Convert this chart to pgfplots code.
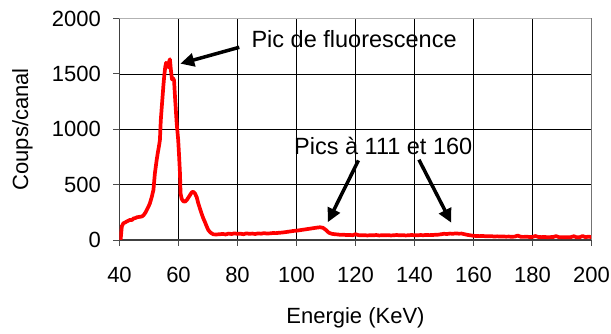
\documentclass[border=0pt]{standalone}
\usepackage{fontspec}
\setmainfont{Liberation Sans}
\usepackage{pgfplots}
\usepackage{pgfplotstable}
\pgfplotsset{compat=1.18}
\usetikzlibrary{arrows.meta}
\pgfplotstableread{
E C
40 0
40.4 10
40.8 125
41.3 150
41.9 158
42.5 168
43.1 176
43.6 182
44.2 180
44.8 195
45.4 198
45.9 205
46.5 208
47.1 210
47.7 214
48.2 225
48.8 248
49.3 275
49.8 300
50.3 331
50.9 385
51.5 451
52.0 602
52.6 722
53.0 790
53.4 850
53.7 903
54.0 1083
54.3 1190
54.6 1294
54.9 1400
55.2 1490
55.5 1560
55.8 1600
56.1 1590
56.5 1560
56.8 1610
57.1 1632
57.4 1540
57.8 1450
58.2 1460
58.5 1440
58.8 1300
59.1 1174
59.4 1050
59.9 903
60.2 760
60.5 602
60.7 420
61.1 370
61.6 350
62.2 346
62.8 360
63.4 385
64.0 410
64.5 430
65.0 436
65.6 420
66.2 385
66.7 331
67.2 290
67.8 240
68.4 196
69.0 160
69.6 120
70.1 90
70.8 68
71.8 51
72.8 50
74 52
75 55
76 50
77 58
78 54
79 60
80 55
81 57
82 52
83 60
84 56
85 58
86 54
87 60
88 57
89 62
90 58
91 60
92 63
93 62
94 65
95 67
96 70
97 74
98 78
99 82
100 84
101 88
102 92
103 96
104 100
105 104
106 108
107 112
108 115
109 110
110 90
111 65
112 56
113 52
114 50
115 46
116 48
117 44
118 46
119 43
120 52
121 44
122 42
123 44
124 41
125 43
126 42
127 45
128 41
129 43
130 42
131 44
132 41
133 43
134 45
135 42
136 44
137 41
138 43
139 45
140 43
141 42
142 45
143 43
144 46
145 44
146 45
147 47
148 48
149 52
150 56
151 54
152 58
153 56
154 60
155 57
156 58
157 52
158 46
159 42
160 38
161 36
162 35
163 37
164 34
165 33
166 35
167 31
168 33
169 31
170 32
171 30
172 31
173 29
174 31
175 40
176 29
177 28
178 30
179 27
180 28
181 36
182 27
183 26
184 28
185 25
186 26
187 27
188 35
189 25
190 26
191 24
192 25
193 26
194 34
195 24
196 25
197 36
198 25
199 31
200 25
}\spectre
\begin{document}
\begin{tikzpicture}
\path[use as bounding box] (-119.5pt,-94pt) rectangle (491.5pt,240pt);
\begin{axis}[
  at={(0pt,0pt)}, anchor=south west,
  scale only axis, width=472pt, height=221.5pt,
  xmin=40, xmax=200, ymin=0, ymax=2000,
  xtick={40,60,...,200}, ytick={0,500,...,2000},
  grid=major, major grid style={black, line width=0.6pt},
  axis x line*=bottom, axis y line*=left,
  axis line style={-, draw=black!75, line width=1.2pt},
  tick align=outside, major tick length=6pt,
  tick style={black!70, line width=0.8pt},
  font=\fontsize{22}{26}\selectfont,
  /pgf/number format/assume math mode=true,
  /pgf/number format/1000 sep={},
  yticklabel style={anchor=east, inner sep=0pt, xshift=-12.5pt},
  xticklabel style={anchor=north, inner sep=0pt, yshift=-20.5pt},
  xlabel={Energie (KeV)}, ylabel={Coups/canal},
  every axis x label/.style={at={([yshift=-78pt]axis description cs:0.5,0)}, anchor=center},
  every axis y label/.style={at={([xshift=-97pt]axis description cs:0,0.5)}, anchor=center, rotate=90},
  clip=true,
]
\addplot[red, line width=3.7pt, line join=round, line cap=round] table[x=E, y=C] {\spectre};
\draw[gray!60, line width=1.5pt] (rel axis cs:0,1) -- (rel axis cs:1,1) -- (rel axis cs:1,0);
\draw[-{Triangle[length=14pt,width=13pt]}, line width=3.5pt] (axis cs:80.6,1740) -- (axis cs:60.6,1592);
\draw[-{Triangle[length=14pt,width=13pt]}, line width=3.5pt] (axis cs:121.0,719) -- (axis cs:110.6,160);
\draw[-{Triangle[length=14pt,width=13pt]}, line width=3.5pt] (axis cs:141.5,725) -- (axis cs:152.5,155);
\node[anchor=west, inner sep=0pt, font=\fontsize{23.5}{27}\selectfont] at (axis cs:84.7,1817) {Pic de fluorescence};
\node[anchor=center, inner sep=0pt, font=\fontsize{23.5}{27}\selectfont] at (axis cs:129.4,851) {Pics à 111 et 160};
\end{axis}
\end{tikzpicture}
\end{document}
